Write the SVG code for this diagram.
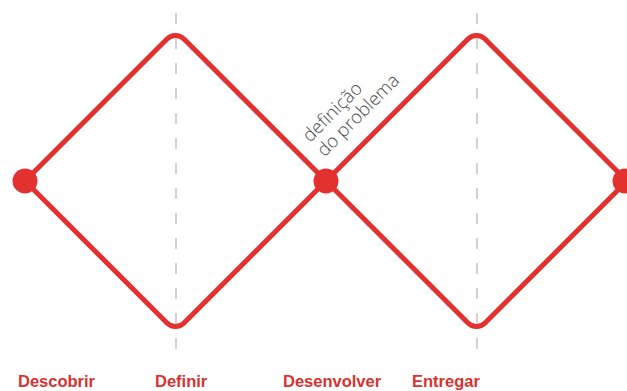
<svg xmlns="http://www.w3.org/2000/svg" width="627" height="391" viewBox="0 0 627 391">
  <style>
    .diamond { fill: none; stroke: #e3312f; stroke-width: 5; stroke-linejoin: round; }
    .guide { stroke: #c4c4c4; stroke-width: 1.5; stroke-dasharray: 11 14; }
    .dot { fill: #e3312f; }
    .phase { font-family: "Liberation Sans", Arial, sans-serif; font-weight: bold; font-size: 16.5px; fill: #d8322e; }
    .note { font-family: "Open Sans", "Liberation Sans", sans-serif; font-weight: 300; font-size: 18.5px; fill: #4d4d4d; }
  </style>
  <rect width="627" height="391" fill="#ffffff"/>
  <g id="connectors">
    <path id="diamond-1" class="diamond" d="M25,181 L167.01,39 A12,12 0 0 1 183.99,39 L326,181 L183.99,323 A12,12 0 0 1 167.01,323 Z"/>
    <path id="diamond-2" class="diamond" d="M326,181 L468.01,39 A12,12 0 0 1 484.99,39 L627,181 L484.99,323 A12,12 0 0 1 468.01,323 Z"/>
    <line class="guide" x1="176" y1="13" x2="176" y2="354"/>
    <line class="guide" x1="477" y1="13" x2="477" y2="354"/>
  </g>
  <g id="node-start">
    <circle class="dot" cx="25" cy="181" r="12.5"/>
  </g>
  <g id="node-middle">
    <circle class="dot" cx="326" cy="181" r="12.5"/>
  </g>
  <g id="node-end">
    <circle class="dot" cx="625" cy="181" r="12.5"/>
  </g>
  <g id="label-definicao" transform="translate(310,143) rotate(-45)">
    <text class="note" x="0" y="0">definição</text>
    <text class="note" x="0" y="20.5">do problema</text>
  </g>
  <g id="phase-descobrir"><text class="phase" x="18" y="387">Descobrir</text></g>
  <g id="phase-definir"><text class="phase" x="155" y="387">Definir</text></g>
  <g id="phase-desenvolver"><text class="phase" x="283" y="387">Desenvolver</text></g>
  <g id="phase-entregar"><text class="phase" x="412" y="387">Entregar</text></g>
</svg>
